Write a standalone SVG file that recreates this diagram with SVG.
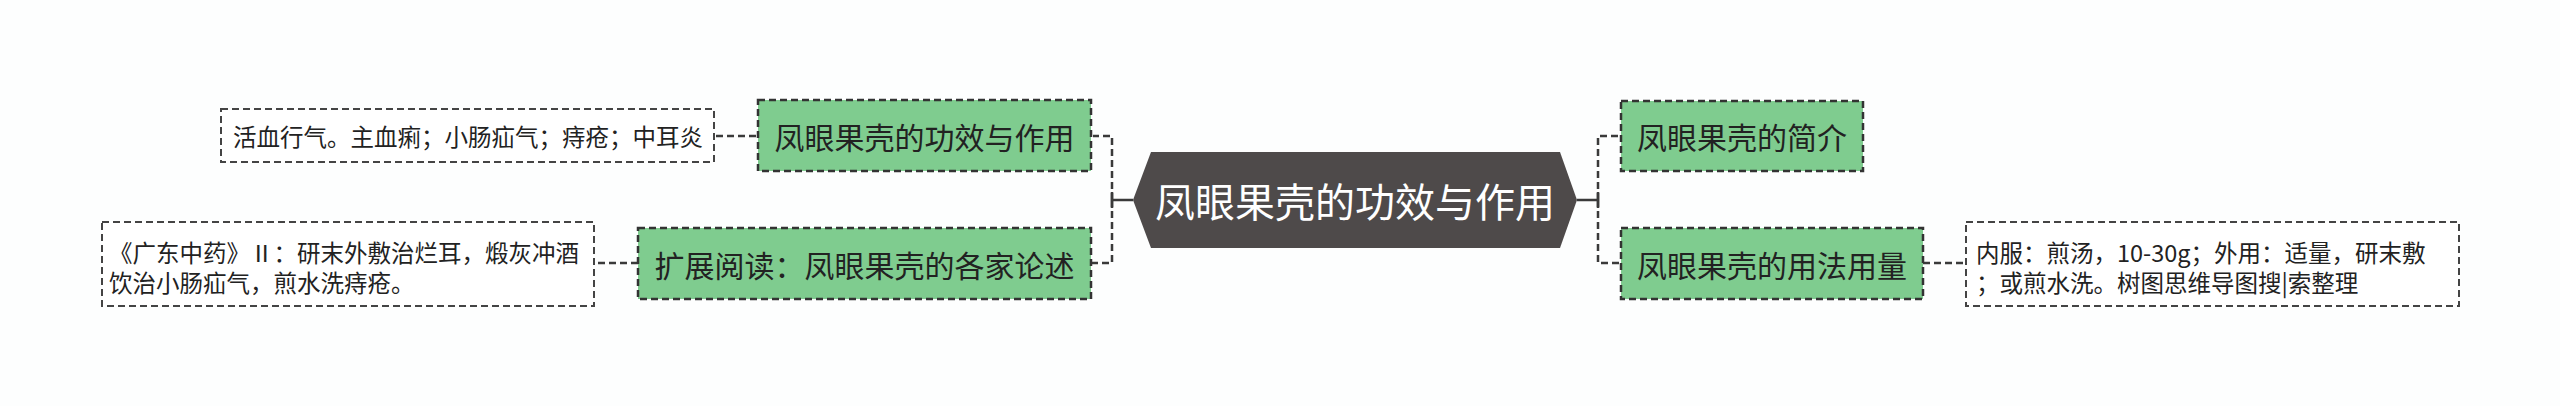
<svg xmlns="http://www.w3.org/2000/svg" width="2560" height="406" viewBox="0 0 2560 406">
<style>
text{font-family:"Noto Sans CJK SC","Noto Sans",sans-serif;dominant-baseline:central}
.conn{fill:none;stroke:#3a3a3a;stroke-width:2.5;stroke-dasharray:7 4}
.solid{fill:none;stroke:#3a3a3a;stroke-width:2.5}
.topic{fill:#7fcc8f;stroke:#333;stroke-width:2.5;stroke-dasharray:7 4}
.leaf{fill:#ffffff;stroke:#444;stroke-width:2;stroke-dasharray:7 4}
.tt{font-size:30px;fill:#222;text-anchor:middle}
.lt{font-size:23.5px;fill:#222}
</style>
<rect width="2560" height="406" fill="#fdfefe"/>
<g id="connectors">
<path class="conn" d="M1112,200 V136 H1093"/>
<path class="conn" d="M1112,200 V263 H1091"/>
<path class="solid" d="M1133,200 H1112 M1112,192 V208"/>
<path class="conn" d="M1598,200 V136 H1621"/>
<path class="conn" d="M1598,200 V263 H1621"/>
<path class="solid" d="M1577,200 H1598 M1598,192 V208"/>
<path class="conn" d="M756,136 H714"/>
<path class="conn" d="M638,263 H594"/>
<path class="conn" d="M1923,263 H1966"/>
</g>
<g id="center">
<polygon points="1133,200 1151,152 1560,152 1577,200 1560,248 1151,248" fill="#4e4a4a"/>
<text x="1355" y="200" font-size="40" fill="#ffffff" text-anchor="middle">凤眼果壳的功效与作用</text>
</g>
<g id="n1">
<rect class="topic" x="758" y="100" width="333" height="71"/>
<text class="tt" x="924.5" y="136">凤眼果壳的功效与作用</text>
</g>
<g id="n1leaf">
<rect class="leaf" x="221" y="109" width="493" height="53"/>
<text class="lt" x="233" y="136">活血行气。主血痢；小肠疝气；痔疮；中耳炎</text>
</g>
<g id="n2">
<rect class="topic" x="638" y="228" width="453" height="71"/>
<text class="tt" x="864.5" y="263.5">扩展阅读：凤眼果壳的各家论述</text>
</g>
<g id="n2leaf">
<rect class="leaf" x="102" y="222" width="492" height="84"/>
<text class="lt" x="109" y="252">《广东中药》Ⅱ：研末外敷治烂耳，煅灰冲酒</text>
<text class="lt" x="109" y="282">饮治小肠疝气，煎水洗痔疮。</text>
</g>
<g id="n3">
<rect class="topic" x="1621" y="101" width="242" height="70"/>
<text class="tt" x="1742" y="136">凤眼果壳的简介</text>
</g>
<g id="n4">
<rect class="topic" x="1621" y="228" width="302" height="71"/>
<text class="tt" x="1772" y="263.5">凤眼果壳的用法用量</text>
</g>
<g id="n4leaf">
<rect class="leaf" x="1966" y="222" width="493" height="84"/>
<text class="lt" x="1976" y="252">内服：煎汤，10-30g；外用：适量，研末敷</text>
<text class="lt" x="1976" y="282">；或煎水洗。树图思维导图搜|索整理</text>
</g>
</svg>
